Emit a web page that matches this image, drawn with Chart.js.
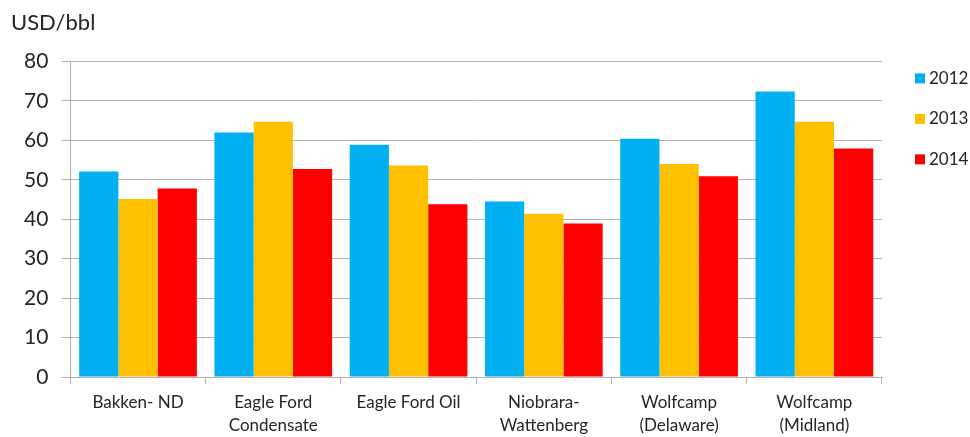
<!DOCTYPE html>
<html lang="en">
<head>
    <meta charset="UTF-8">
    <title>Break-even prices by play</title>
    <script src="https://cdn.jsdelivr.net/npm/chart.js"></script>
    <style>
        body {
            margin: 0;
            background: #fff;
        }
        .chart-box {
            position: relative;
            width: 970px;
            height: 437px;
        }
    </style>
</head>
<body>
    <div class="chart-box">
        <canvas id="priceChart"></canvas>
    </div>

    <script>
        const plays = [
            'Bakken- ND',
            ['Eagle Ford', 'Condensate'],
            'Eagle Ford Oil',
            ['Niobrara-', 'Wattenberg'],
            ['Wolfcamp', '(Delaware)'],
            ['Wolfcamp', '(Midland)']
        ];
        const years = ['2012', '2013', '2014'];
        const prices2012 = [52.1, 62.0, 58.9, 44.5, 60.4, 72.4];
        const prices2013 = [45.1, 64.7, 53.6, 41.4, 54.0, 64.7];
        const prices2014 = [47.8, 52.7, 43.8, 38.9, 50.9, 57.9];
        const yTicks = [0, 10, 20, 30, 40, 50, 60, 70, 80];

        const textColor = '#262626';
        const gridColor = '#b3b3b3';
        const fontFamily = 'Lato, "Open Sans", sans-serif';

        // legend on the right, squares with year labels
        const sideLegend = {
            id: 'sideLegend',
            afterDraw(chart) {
                const { ctx, chartArea } = chart;
                ctx.save();
                ctx.font = '17px ' + fontFamily;
                ctx.textBaseline = 'middle';
                chart.data.datasets.forEach((ds, i) => {
                    const x = chartArea.right + 33;
                    const y = chartArea.top + 17 + i * 40.5;
                    ctx.fillStyle = ds.backgroundColor;
                    ctx.fillRect(x, y - 5, 10, 10);
                    ctx.fillStyle = textColor;
                    ctx.fillText(ds.label, x + 14, y);
                });
                ctx.restore();
            }
        };

        const ctx = document.getElementById('priceChart').getContext('2d');
        new Chart(ctx, {
            type: 'bar',
            data: {
                labels: plays,
                datasets: [
                    { label: years[0], data: prices2012, backgroundColor: '#00b0f0' },
                    { label: years[1], data: prices2013, backgroundColor: '#ffc000' },
                    { label: years[2], data: prices2014, backgroundColor: '#ff0000' }
                ]
            },
            options: {
                responsive: true,
                maintainAspectRatio: false,
                animation: false,
                categoryPercentage: 0.87,
                barPercentage: 1,
                layout: {
                    padding: { left: 11, right: 88, top: 0, bottom: -7 }
                },
                plugins: {
                    legend: { display: false },
                    tooltip: { enabled: false },
                    title: {
                        display: true,
                        text: 'USD/bbl',
                        align: 'start',
                        color: textColor,
                        font: { family: fontFamily, size: 22, weight: 'normal' },
                        padding: { top: 10, bottom: 25 }
                    }
                },
                scales: {
                    x: {
                        grid: {
                            drawOnChartArea: false,
                            drawTicks: true,
                            tickLength: 7,
                            color: gridColor
                        },
                        border: { color: gridColor },
                        ticks: {
                            color: textColor,
                            padding: 6,
                            maxRotation: 0,
                            font: { family: fontFamily, size: 17, lineHeight: 1.41 }
                        }
                    },
                    y: {
                        min: 0,
                        max: 80,
                        afterBuildTicks(axis) {
                            axis.ticks = yTicks.map(v => ({ value: v }));
                        },
                        grid: {
                            color: gridColor,
                            tickLength: 9
                        },
                        border: { color: gridColor },
                        ticks: {
                            color: textColor,
                            padding: 13,
                            font: { family: fontFamily, size: 21 }
                        }
                    }
                }
            },
            plugins: [sideLegend]
        });
    </script>
</body>
</html>
